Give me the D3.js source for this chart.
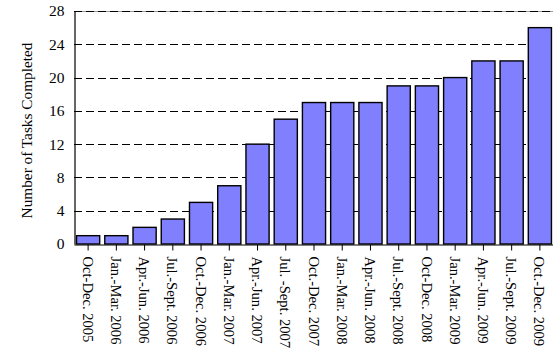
<!DOCTYPE html>
<html>
<head>
<meta charset="utf-8">
<script src="https://cdn.jsdelivr.net/npm/d3@7"></script>
<style>
  body { margin: 0; background: #fff; }
  text { font-family: "Liberation Serif", "DejaVu Serif", serif; }
</style>
</head>
<body>
<svg id="chart"></svg>
<script>
// quarters and tasks completed
const quarters = ["Oct-Dec. 2005", "Jan.-Mar. 2006", "Apr.-Jun. 2006", "Jul.-Sept. 2006",
  "Oct.-Dec. 2006", "Jan.-Mar. 2007", "Apr.-Jun. 2007", "Jul. -Sept. 2007",
  "Oct.-Dec. 2007", "Jan.-Mar. 2008", "Apr.-Jun. 2008", "Jul.-Sept. 2008",
  "Oct-Dec. 2008", "Jan.-Mar. 2009", "Apr.-Jun. 2009", "Jul.-Sept. 2009", "Oct.-Dec. 2009"];
const tasks = [1, 1, 2, 3, 5, 7, 12, 15, 17, 17, 17, 19, 19, 20, 22, 22, 26];
const yTicks = [0, 4, 8, 12, 16, 20, 24, 28];

const width = 553, height = 349;
const plotL = 74, plotR = 553, plotT = 11, plotB = 244;

const svg = d3.select("#chart").attr("width", width).attr("height", height);

const x = d3.scaleBand().domain(quarters).range([plotL, plotR + 1])
  .paddingInner(0.18).paddingOuter(0.09);
const y = d3.scaleLinear().domain([0, 28]).range([plotB, plotT]);

// top border (grey, under the dashes)
svg.append("line")
  .attr("x1", plotL).attr("x2", width)
  .attr("y1", Math.round(y(28)) + 0.5).attr("y2", Math.round(y(28)) + 0.5)
  .attr("stroke", "#999").attr("stroke-width", 1);

// dashed grid lines
svg.append("g").selectAll("line")
  .data(yTicks.filter(d => d > 0))
  .enter().append("line")
    .attr("x1", plotL).attr("x2", width)
    .attr("y1", d => Math.round(y(d)) + 0.5).attr("y2", d => Math.round(y(d)) + 0.5)
    .attr("stroke", "#000").attr("stroke-width", 1)
    .attr("stroke-dasharray", "8,4");

// bars
svg.append("g").selectAll("rect")
  .data(tasks)
  .enter().append("rect")
    .attr("x", (d, i) => x(quarters[i]))
    .attr("y", d => y(d))
    .attr("width", x.bandwidth())
    .attr("height", d => plotB - y(d))
    .attr("fill", "#8080ff")
    .attr("stroke", "#000").attr("stroke-width", 1.4);

// y axis
const yAxis = svg.append("g").attr("transform", `translate(${plotL + 0.5},0)`)
  .call(d3.axisLeft(y).tickValues(yTicks).tickSize(0).tickPadding(10));
yAxis.select(".domain").attr("stroke", "#000").attr("stroke-width", 1.2);
yAxis.selectAll("text").attr("font-size", 15.5).attr("fill", "#000")
  .style("font-family", "Liberation Serif");

// x axis
const xAxis = svg.append("g").attr("transform", `translate(0,${plotB + 0.5})`)
  .call(d3.axisBottom(x).tickSize(6).tickSizeOuter(0).tickPadding(0));
xAxis.select(".domain").attr("stroke", "#000").attr("stroke-width", 1.2);
xAxis.selectAll("line").attr("stroke", "#000");
xAxis.selectAll("text")
  .attr("font-size", 14.6).attr("fill", "#000")
  .style("font-family", "Liberation Serif")
  .attr("text-anchor", "start")
  .attr("dy", "0.3em")
  .attr("transform", "translate(-1,12) rotate(90)")
  .attr("x", 0).attr("y", 0);

// y axis title
svg.append("text")
  .attr("transform", `translate(32,${(plotT + plotB) / 2 + 3}) rotate(-90)`)
  .attr("text-anchor", "middle")
  .attr("font-size", 15.3)
  .text("Number of Tasks Completed");
</script>
</body>
</html>
